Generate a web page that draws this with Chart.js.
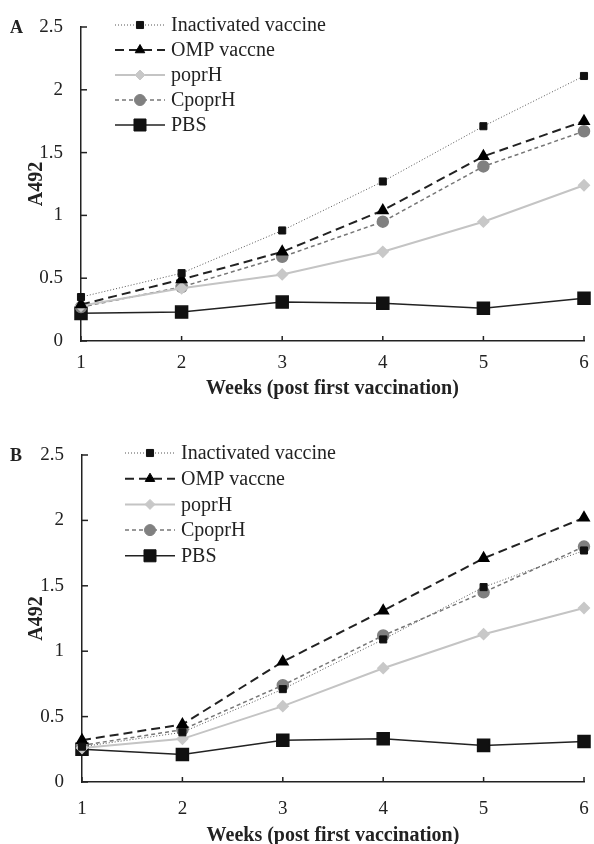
<!DOCTYPE html>
<html>
<head>
<meta charset="utf-8">
<script src="https://cdn.jsdelivr.net/npm/chart.js@4.4.1/dist/chart.umd.min.js"></script>
<style>
  html, body { margin: 0; padding: 0; background: #fff; overflow: hidden; }
  .panel { position: absolute; left: 0; width: 594px; }
  #panelA { top: 0; height: 420px; }
  #panelB { top: 420px; height: 430px; }
</style>
</head>
<body>
<div class="panel" id="panelA"><canvas id="chartA" width="594" height="420"></canvas></div>
<div class="panel" id="panelB"><canvas id="chartB" width="594" height="430"></canvas></div>
<script>
const weeks = ['1', '2', '3', '4', '5', '6'];
const yTicks = [0, 0.5, 1, 1.5, 2, 2.5];
const seriesNames = ['Inactivated vaccine', 'OMP vaccne', 'poprH', 'CpoprH', 'PBS'];

// Panel A
const inactivatedA = [0.35, 0.54, 0.88, 1.27, 1.71, 2.11];
const ompA = [0.29, 0.49, 0.71, 1.04, 1.47, 1.75];
const poprHA = [0.28, 0.42, 0.53, 0.71, 0.95, 1.24];
const cpoprHA = [0.27, 0.43, 0.67, 0.95, 1.39, 1.67];
const pbsA = [0.22, 0.23, 0.31, 0.30, 0.26, 0.34];

// Panel B
const inactivatedB = [0.27, 0.38, 0.71, 1.09, 1.49, 1.77];
const ompB = [0.32, 0.44, 0.92, 1.31, 1.71, 2.02];
const poprHB = [0.26, 0.33, 0.58, 0.87, 1.13, 1.33];
const cpoprHB = [0.28, 0.40, 0.74, 1.12, 1.45, 1.80];
const pbsB = [0.25, 0.21, 0.32, 0.33, 0.28, 0.31];

const FONT = '"Liberation Serif", "Times New Roman", serif';
const INK = '#222';

const styles = [
  { borderColor: '#555', borderWidth: 1, borderDash: [1, 2], pointStyle: 'rect', pointRadius: 5, pointBackgroundColor: '#111', pointBorderColor: '#111' },
  { borderColor: '#222', borderWidth: 2, borderDash: [9, 5], pointStyle: 'triangle', pointRadius: 5.5, pointBackgroundColor: '#000', pointBorderColor: '#000' },
  { borderColor: '#c4c4c4', borderWidth: 2, borderDash: [], pointStyle: 'rectRot', pointRadius: 5, pointBackgroundColor: '#c8c8c8', pointBorderColor: '#c8c8c8' },
  { borderColor: '#777', borderWidth: 1.5, borderDash: [4, 3], pointStyle: 'circle', pointRadius: 5.5, pointBackgroundColor: '#808080', pointBorderColor: '#808080' },
  { borderColor: '#222', borderWidth: 1.5, borderDash: [], pointStyle: 'rect', pointRadius: 8.5, pointBackgroundColor: '#111', pointBorderColor: '#111' },
];

// legend drawn inside the plot area, plus the panel letter and inside tick marks
const panelDecor = {
  id: 'panelDecor',
  afterDraw(chart, args, opts) {
    const { ctx, chartArea } = chart;
    const x = chart.scales.x, y = chart.scales.y;
    ctx.save();
    ctx.strokeStyle = INK;
    ctx.lineWidth = 1.5;
    yTicks.forEach(v => {
      const py = y.getPixelForValue(v);
      ctx.beginPath(); ctx.moveTo(chartArea.left, py); ctx.lineTo(chartArea.left + 6, py); ctx.stroke();
    });
    weeks.forEach((w, i) => {
      const px = x.getPixelForValue(i);
      ctx.beginPath(); ctx.moveTo(px, chartArea.bottom); ctx.lineTo(px, chartArea.bottom - 5); ctx.stroke();
    });

    ctx.fillStyle = INK;
    ctx.font = 'bold 18px ' + FONT;
    ctx.textBaseline = 'middle';
    ctx.textAlign = 'left';
    ctx.fillText(opts.letter, 10, chartArea.top + 1);

    ctx.font = '20px ' + FONT;
    chart.data.datasets.forEach((ds, i) => {
      const ly = chartArea.top + opts.dy + i * opts.gap;
      const x0 = chartArea.left + opts.dx;
      ctx.save();
      ctx.strokeStyle = ds.borderColor;
      ctx.lineWidth = ds.borderWidth;
      ctx.setLineDash(ds.borderDash);
      ctx.beginPath(); ctx.moveTo(x0, ly); ctx.lineTo(x0 + 50, ly); ctx.stroke();
      ctx.setLineDash([]);
      ctx.fillStyle = ds.pointBackgroundColor;
      ctx.strokeStyle = ds.pointBorderColor;
      ctx.lineWidth = 1;
      Chart.helpers.drawPoint(ctx, { pointStyle: ds.pointStyle, radius: ds.pointRadius, borderWidth: 1, rotation: 0 }, x0 + 25, ly);
      ctx.restore();
      ctx.fillStyle = INK;
      ctx.fillText(ds.label, x0 + 56, ly + 1);
    });
    ctx.restore();
  }
};

function makePanel(id, series, o) {
  return new Chart(document.getElementById(id), {
    type: 'line',
    data: {
      labels: weeks,
      datasets: series.map((d, i) => ({
        label: seriesNames[i],
        data: d,
        fill: false,
        tension: 0,
        clip: false,
        ...styles[i],
      })),
    },
    options: {
      responsive: false,
      animation: false,
      events: [],
      layout: { padding: { left: 19, right: o.padRight, top: o.padTop, bottom: o.padBottom } },
      plugins: {
        legend: { display: false },
        tooltip: { enabled: false },
        panelDecor: o,
      },
      scales: {
        x: {
          offset: false,
          grid: { display: false, drawTicks: false },
          border: { color: INK, width: 1.5 },
          ticks: { color: INK, font: { family: FONT, size: 19 }, padding: o.tickPad, maxRotation: 0 },
          title: { display: true, text: 'Weeks (post first vaccination)', color: INK, font: { family: FONT, size: 20, weight: 'bold' }, padding: { top: 0, bottom: 2 } },
          afterFit: s => { s.height = o.xHeight; s.paddingLeft = 0; s.paddingRight = 0; },
        },
        y: {
          min: 0,
          max: 2.5,
          grid: { display: false, drawTicks: false },
          border: { color: INK, width: 1.5 },
          ticks: { stepSize: 0.5, color: INK, font: { family: FONT, size: 19 }, padding: 18, callback: v => String(v) },
          title: { display: true, text: 'A492', color: INK, font: { family: FONT, size: 20, weight: 'bold' }, padding: { top: 6, bottom: 0 } },
          afterFit: s => { s.width = o.yWidth; s.paddingTop = 0; s.paddingBottom = 0; },
        },
      },
    },
    plugins: [panelDecor],
  });
}

makePanel('chartA', [inactivatedA, ompA, poprHA, cpoprHA, pbsA],
  { letter: 'A', dx: 34, dy: -2, gap: 25, padTop: 27, padRight: 5, padBottom: 17, xHeight: 62, yWidth: 62, tickPad: 10.5 });
makePanel('chartB', [inactivatedB, ompB, poprHB, cpoprHB, pbsB],
  { letter: 'B', dx: 43, dy: -2, gap: 25.7, padTop: 35, padRight: 4, padBottom: 0, xHeight: 68, yWidth: 63, tickPad: 15.5 });
</script>
</body>
</html>
